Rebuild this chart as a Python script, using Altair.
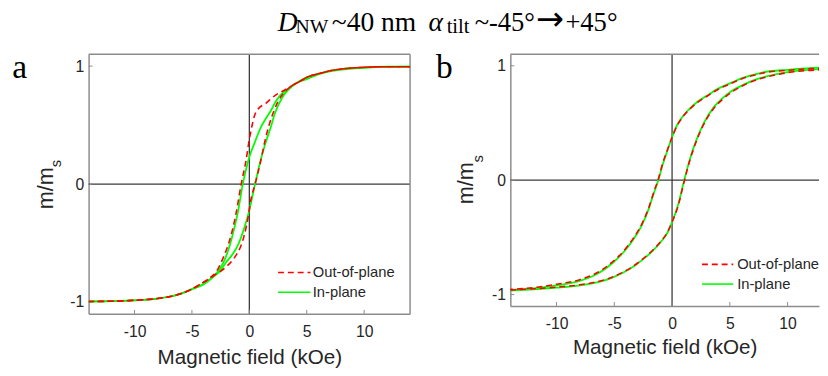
import altair as alt
import pandas as pd

# ---------------- data ----------------
# Panel a : Out-of-plane (red dashed)
a_oop_desc_H = [14, 12, 10, 8, 7, 6, 5, 4.57, 3.9, 3.14, 2.29, 1.43, 0.72, 0.45, 0.29, 0.12, 0, -0.29, -0.71, -1.14, -1.5, -1.86, -2.3, -2.86, -3.5, -4.3, -5, -6, -7, -8, -10, -12, -14]
a_oop_desc_m = [0.995, 0.995, 0.99, 0.975, 0.96, 0.935, 0.905, 0.88, 0.845, 0.80, 0.755, 0.685, 0.63, 0.58, 0.52, 0.44, 0.38, 0.2, 0.0, -0.24, -0.40, -0.52, -0.63, -0.74, -0.80, -0.85, -0.89, -0.93, -0.955, -0.97, -0.985, -0.993, -0.995]
a_oop_asc_H = [-14, -12, -10, -8, -7, -6, -5, -4.3, -3.6, -3.0, -2.0, -1.14, -0.72, -0.43, -0.14, 0.14, 0.5, 1.0, 1.37, 1.75, 2.14, 2.5, 2.86, 3.5, 4.5, 5, 6, 7, 8, 10, 12, 14]
a_oop_asc_m = [-0.995, -0.993, -0.985, -0.97, -0.955, -0.93, -0.89, -0.85, -0.81, -0.77, -0.70, -0.60, -0.52, -0.43, -0.3, -0.13, 0.0, 0.2, 0.37, 0.51, 0.62, 0.70, 0.755, 0.82, 0.875, 0.905, 0.935, 0.96, 0.975, 0.99, 0.995, 0.995]
# Panel a : In-plane (green solid)
a_ip_desc_H = [14, 12, 10, 8, 7, 6, 5, 4.0, 3.4, 2.71, 2.3, 1.86, 1.4, 1.0, 0.5, 0, -0.57, -1.0, -1.35, -1.71, -2.1, -2.57, -3.2, -4.0, -5, -6, -7, -8, -10, -12, -14]
a_ip_desc_m = [0.995, 0.995, 0.99, 0.975, 0.96, 0.935, 0.905, 0.85, 0.805, 0.755, 0.70, 0.62, 0.55, 0.48, 0.36, 0.23, 0.0, -0.24, -0.39, -0.52, -0.63, -0.72, -0.79, -0.85, -0.89, -0.93, -0.955, -0.97, -0.985, -0.993, -0.995]
a_ip_asc_H = [-14, -12, -10, -8, -7, -6, -5, -4.0, -3.2, -2.57, -2.0, -1.5, -1.0, -0.5, -0.05, 0.5, 0.9, 1.35, 1.86, 2.23, 2.91, 3.4, 4.0, 5, 6, 7, 8, 10, 12, 14]
a_ip_asc_m = [-0.995, -0.993, -0.985, -0.97, -0.955, -0.93, -0.89, -0.85, -0.79, -0.74, -0.66, -0.60, -0.52, -0.39, -0.24, 0.0, 0.17, 0.33, 0.48, 0.60, 0.74, 0.80, 0.85, 0.89, 0.93, 0.955, 0.97, 0.985, 0.993, 0.995]

# Panel b : In-plane (green solid)
b_ip_desc_H = [14, 12, 10, 8, 7.4, 6, 5.1, 4, 3.12, 2.2, 1.42, 0.9, 0.43, 0, -0.4, -0.8, -1.19, -1.6, -1.98, -2.6, -3.4, -4.2, -5.1, -6, -6.8, -8, -10, -12, -14]
b_ip_desc_m = [0.985, 0.98, 0.965, 0.945, 0.93, 0.89, 0.85, 0.80, 0.745, 0.685, 0.615, 0.555, 0.48, 0.375, 0.26, 0.14, 0.0, -0.12, -0.24, -0.39, -0.525, -0.63, -0.72, -0.79, -0.835, -0.88, -0.92, -0.945, -0.96]
b_ip_asc_H = [-14, -12, -10, -8, -6.8, -5.5, -4.26, -3.4, -2.55, -1.7, -0.85, -0.4, -0.05, 0.51, 1.05, 1.56, 2.1, 2.7, 3.55, 4.3, 5.1, 6.2, 7.4, 8.5, 10, 12, 14]
b_ip_asc_m = [-0.965, -0.955, -0.94, -0.92, -0.90, -0.865, -0.81, -0.76, -0.695, -0.62, -0.525, -0.46, -0.38, -0.22, 0.0, 0.19, 0.35, 0.49, 0.63, 0.71, 0.775, 0.835, 0.885, 0.915, 0.945, 0.965, 0.975]
# Panel b : Out-of-plane (red dashed, nearly on top of green)
b_oop_desc_H = [14, 12, 10, 8, 7.4, 6, 5.1, 4, 3.12, 2.2, 1.42, 0.9, 0.43, 0, -0.4, -0.8, -1.19, -1.6, -1.98, -2.6, -3.4, -4.2, -5.1, -6, -6.8, -8, -10, -12, -14]
b_oop_desc_m = [0.98, 0.975, 0.96, 0.94, 0.925, 0.885, 0.845, 0.795, 0.74, 0.68, 0.61, 0.55, 0.475, 0.375, 0.265, 0.15, 0.01, -0.11, -0.23, -0.38, -0.515, -0.62, -0.71, -0.78, -0.825, -0.87, -0.91, -0.94, -0.955]
b_oop_asc_H = [-14, -12, -10, -8, -6.8, -5.5, -4.26, -3.4, -2.55, -1.7, -0.85, -0.4, -0.05, 0.51, 1.05, 1.56, 2.1, 2.7, 3.55, 4.3, 5.1, 6.2, 7.4, 8.5, 10, 12, 14]
b_oop_asc_m = [-0.96, -0.95, -0.935, -0.915, -0.895, -0.86, -0.805, -0.755, -0.69, -0.615, -0.52, -0.455, -0.375, -0.23, -0.01, 0.18, 0.34, 0.48, 0.62, 0.70, 0.765, 0.83, 0.88, 0.91, 0.94, 0.96, 0.97]

X_TICKS = [-10, -5, 0, 5, 10]
Y_TICKS = [-1, 0, 1]
SERIES = ["Out-of-plane", "In-plane"]
COLORS = ["#ff0000", "#00ff00"]
X_TITLE = "Magnetic field (kOe)"
Y_TITLE_MAIN = "m/m"
Y_TITLE_SUB = "s"
PANEL_LETTERS = ["a", "b"]
# title pieces: (text, font, font size, italic)
TITLE_PIECES = [("D", "Liberation Serif", 28, True), ("NW", "Liberation Serif", 20, False),
                ("~40 nm", "Liberation Serif", 28, False), ("\u03b1", "Liberation Serif", 28, True),
                ("tilt", "Liberation Serif", 21, False), ("~-45\u00b0", "Liberation Serif", 27, False),
                ("\u2192", "DejaVu Sans", 34, False), ("+45\u00b0", "Liberation Serif", 27, False)]

FRAME = "#8c8c8c"
ZERO = "#3a3a3a"
TXT = "#262626"
SANS = "Liberation Sans"
SERIF = "Liberation Serif"


def branch(series, name, H, m):
    return pd.DataFrame({"series": series, "branch": name, "idx": list(range(len(H))), "H": H, "m": m})


def one():
    return pd.DataFrame({"k": [0]})


def panel(df, W, Hh, xdom, letter, letter_xy, ylab, legend, title_pad, title=False, right_border=True):
    xs = alt.Scale(domain=xdom, nice=False, zero=False)
    ys = alt.Scale(domain=[-1.1, 1.1], nice=False, zero=False)
    xax = alt.Axis(values=X_TICKS, title=X_TITLE, labelExpr="'' + datum.value", titlePadding=title_pad)
    yax = alt.Axis(values=Y_TICKS, title=None, labelExpr="'' + datum.value")
    x = alt.X("H:Q", scale=xs, axis=xax)
    y = alt.Y("m:Q", scale=ys, axis=yax)

    layers = []
    # zero lines
    layers.append(alt.Chart(pd.DataFrame({"H": [0]})).mark_rule(color=ZERO, strokeWidth=1.3).encode(
        x=x, y=alt.value(0), y2=alt.value(Hh)))
    layers.append(alt.Chart(pd.DataFrame({"m": [0]})).mark_rule(color=ZERO, strokeWidth=1.3).encode(
        y=y, x=alt.value(0), x2=alt.value(W)))
    # inward ticks
    layers.append(alt.Chart(pd.DataFrame({"H": X_TICKS})).mark_rule(color=FRAME, strokeWidth=1).encode(
        x=x, y=alt.value(Hh), y2=alt.value(Hh - 4)))
    layers.append(alt.Chart(pd.DataFrame({"m": Y_TICKS})).mark_rule(color=FRAME, strokeWidth=1).encode(
        y=y, x=alt.value(0), x2=alt.value(4)))
    # frame top / right
    layers.append(alt.Chart(one()).mark_rule(color=FRAME, strokeWidth=1.5).encode(
        x=alt.value(0), x2=alt.value(W), y=alt.value(0)))
    if right_border:
        layers.append(alt.Chart(one()).mark_rule(color=FRAME, strokeWidth=1.5).encode(
            x=alt.value(W), y=alt.value(0), y2=alt.value(Hh)))
    # curves
    green = df[df.series == "In-plane"]
    red = df[df.series == "Out-of-plane"]
    layers.append(alt.Chart(green).mark_line(color=COLORS[1], strokeWidth=1.8, clip=True, interpolate="monotone").encode(
        x=x, y=y, detail="branch:N", order="idx:Q"))
    layers.append(alt.Chart(red).mark_line(color=COLORS[0], strokeWidth=1.6, strokeDash=[6, 4], clip=True, interpolate="monotone").encode(
        x=x, y=y, detail="branch:N", order="idx:Q"))
    # legend (manual)
    lx0, lx1, ly, tx = legend
    for i, (s, c) in enumerate(zip(SERIES, COLORS)):
        yy = ly + 20 * i
        kw = dict(color=c, strokeWidth=1.6)
        if i == 0:
            kw["strokeDash"] = [6, 4]
        layers.append(alt.Chart(one()).mark_rule(**kw).encode(
            x=alt.value(lx0), x2=alt.value(lx1), y=alt.value(yy)))
        layers.append(alt.Chart(one()).mark_text(text=s, font=SANS, fontSize=15, color=TXT, align="left", baseline="middle").encode(
            x=alt.value(tx), y=alt.value(yy)))
    # panel letter
    layers.append(alt.Chart(one()).mark_text(text=letter, font=SERIF, fontSize=34, color="#000000", align="left", baseline="alphabetic").encode(
        x=alt.value(letter_xy[0]), y=alt.value(letter_xy[1])))
    # y axis title m/m_s
    mx, my, sx, sy = ylab
    layers.append(alt.Chart(one()).mark_text(text=Y_TITLE_MAIN, font=SANS, fontSize=22, color=TXT, angle=270, align="center", baseline="alphabetic").encode(
        x=alt.value(mx), y=alt.value(my)))
    layers.append(alt.Chart(one()).mark_text(text=Y_TITLE_SUB, font=SANS, fontSize=15, color=TXT, angle=270, align="center", baseline="alphabetic").encode(
        x=alt.value(sx), y=alt.value(sy)))
    if title:
        pos = [(192.4, -23.7), (210.5, -21.3), (247.4, -23.7), (345.7, -23.7), (364.2, -21.3),
               (392.7, -23.7), (455.2, -24.5), (485.0, -23.7)]
        for (t, fnt, fs, it), (px, py) in zip(TITLE_PIECES, pos):
            layers.append(alt.Chart(one()).mark_text(text=t, font=fnt, fontSize=fs, color="#000000",
                                                     fontStyle="italic" if it else "normal", align="left", baseline="alphabetic").encode(
                x=alt.value(px), y=alt.value(py)))
    return alt.layer(*layers).properties(width=W, height=Hh)


df_a = pd.concat([
    branch("Out-of-plane", "d", a_oop_desc_H, a_oop_desc_m),
    branch("Out-of-plane", "u", a_oop_asc_H, a_oop_asc_m),
    branch("In-plane", "d", a_ip_desc_H, a_ip_desc_m),
    branch("In-plane", "u", a_ip_asc_H, a_ip_asc_m),
])
df_b = pd.concat([
    branch("Out-of-plane", "d", b_oop_desc_H, b_oop_desc_m),
    branch("Out-of-plane", "u", b_oop_asc_H, b_oop_asc_m),
    branch("In-plane", "d", b_ip_desc_H, b_ip_desc_m),
    branch("In-plane", "u", b_ip_asc_H, b_ip_asc_m),
])

pa = panel(df_a, 327, 264, [-14, 14], PANEL_LETTERS[0], (-77.6, 24),
           (-36.6, 136.2, -27.6, 111.2), (192.7, 225.7, 222, 228), 8, title=True)
pb = panel(df_b, 314, 256, [-14, 12.72], PANEL_LETTERS[1], (-75.6, 23.7),
           (-38.3, 131.2, -28.3, 106.2), (195, 226.7, 213.7, 230.7), 5, right_border=False)

chart = alt.hconcat(pa, pb, spacing=102, bounds="flush").properties(
    padding={"left": 4, "top": -8, "right": 0, "bottom": 0}
).configure_view(stroke=None).configure_axis(
    domainColor=FRAME, domainWidth=1.5, ticks=False, tickSize=0, grid=False,
    labelFont=SANS, labelFontSize=16, labelColor=TXT,
    titleFont=SANS, titleFontSize=21, titleFontWeight="normal", titleColor=TXT,
).configure_axisX(labelPadding=10).configure_axisY(labelPadding=5)

chart.save("out.html", embed_options={"renderer": "svg", "actions": False})
